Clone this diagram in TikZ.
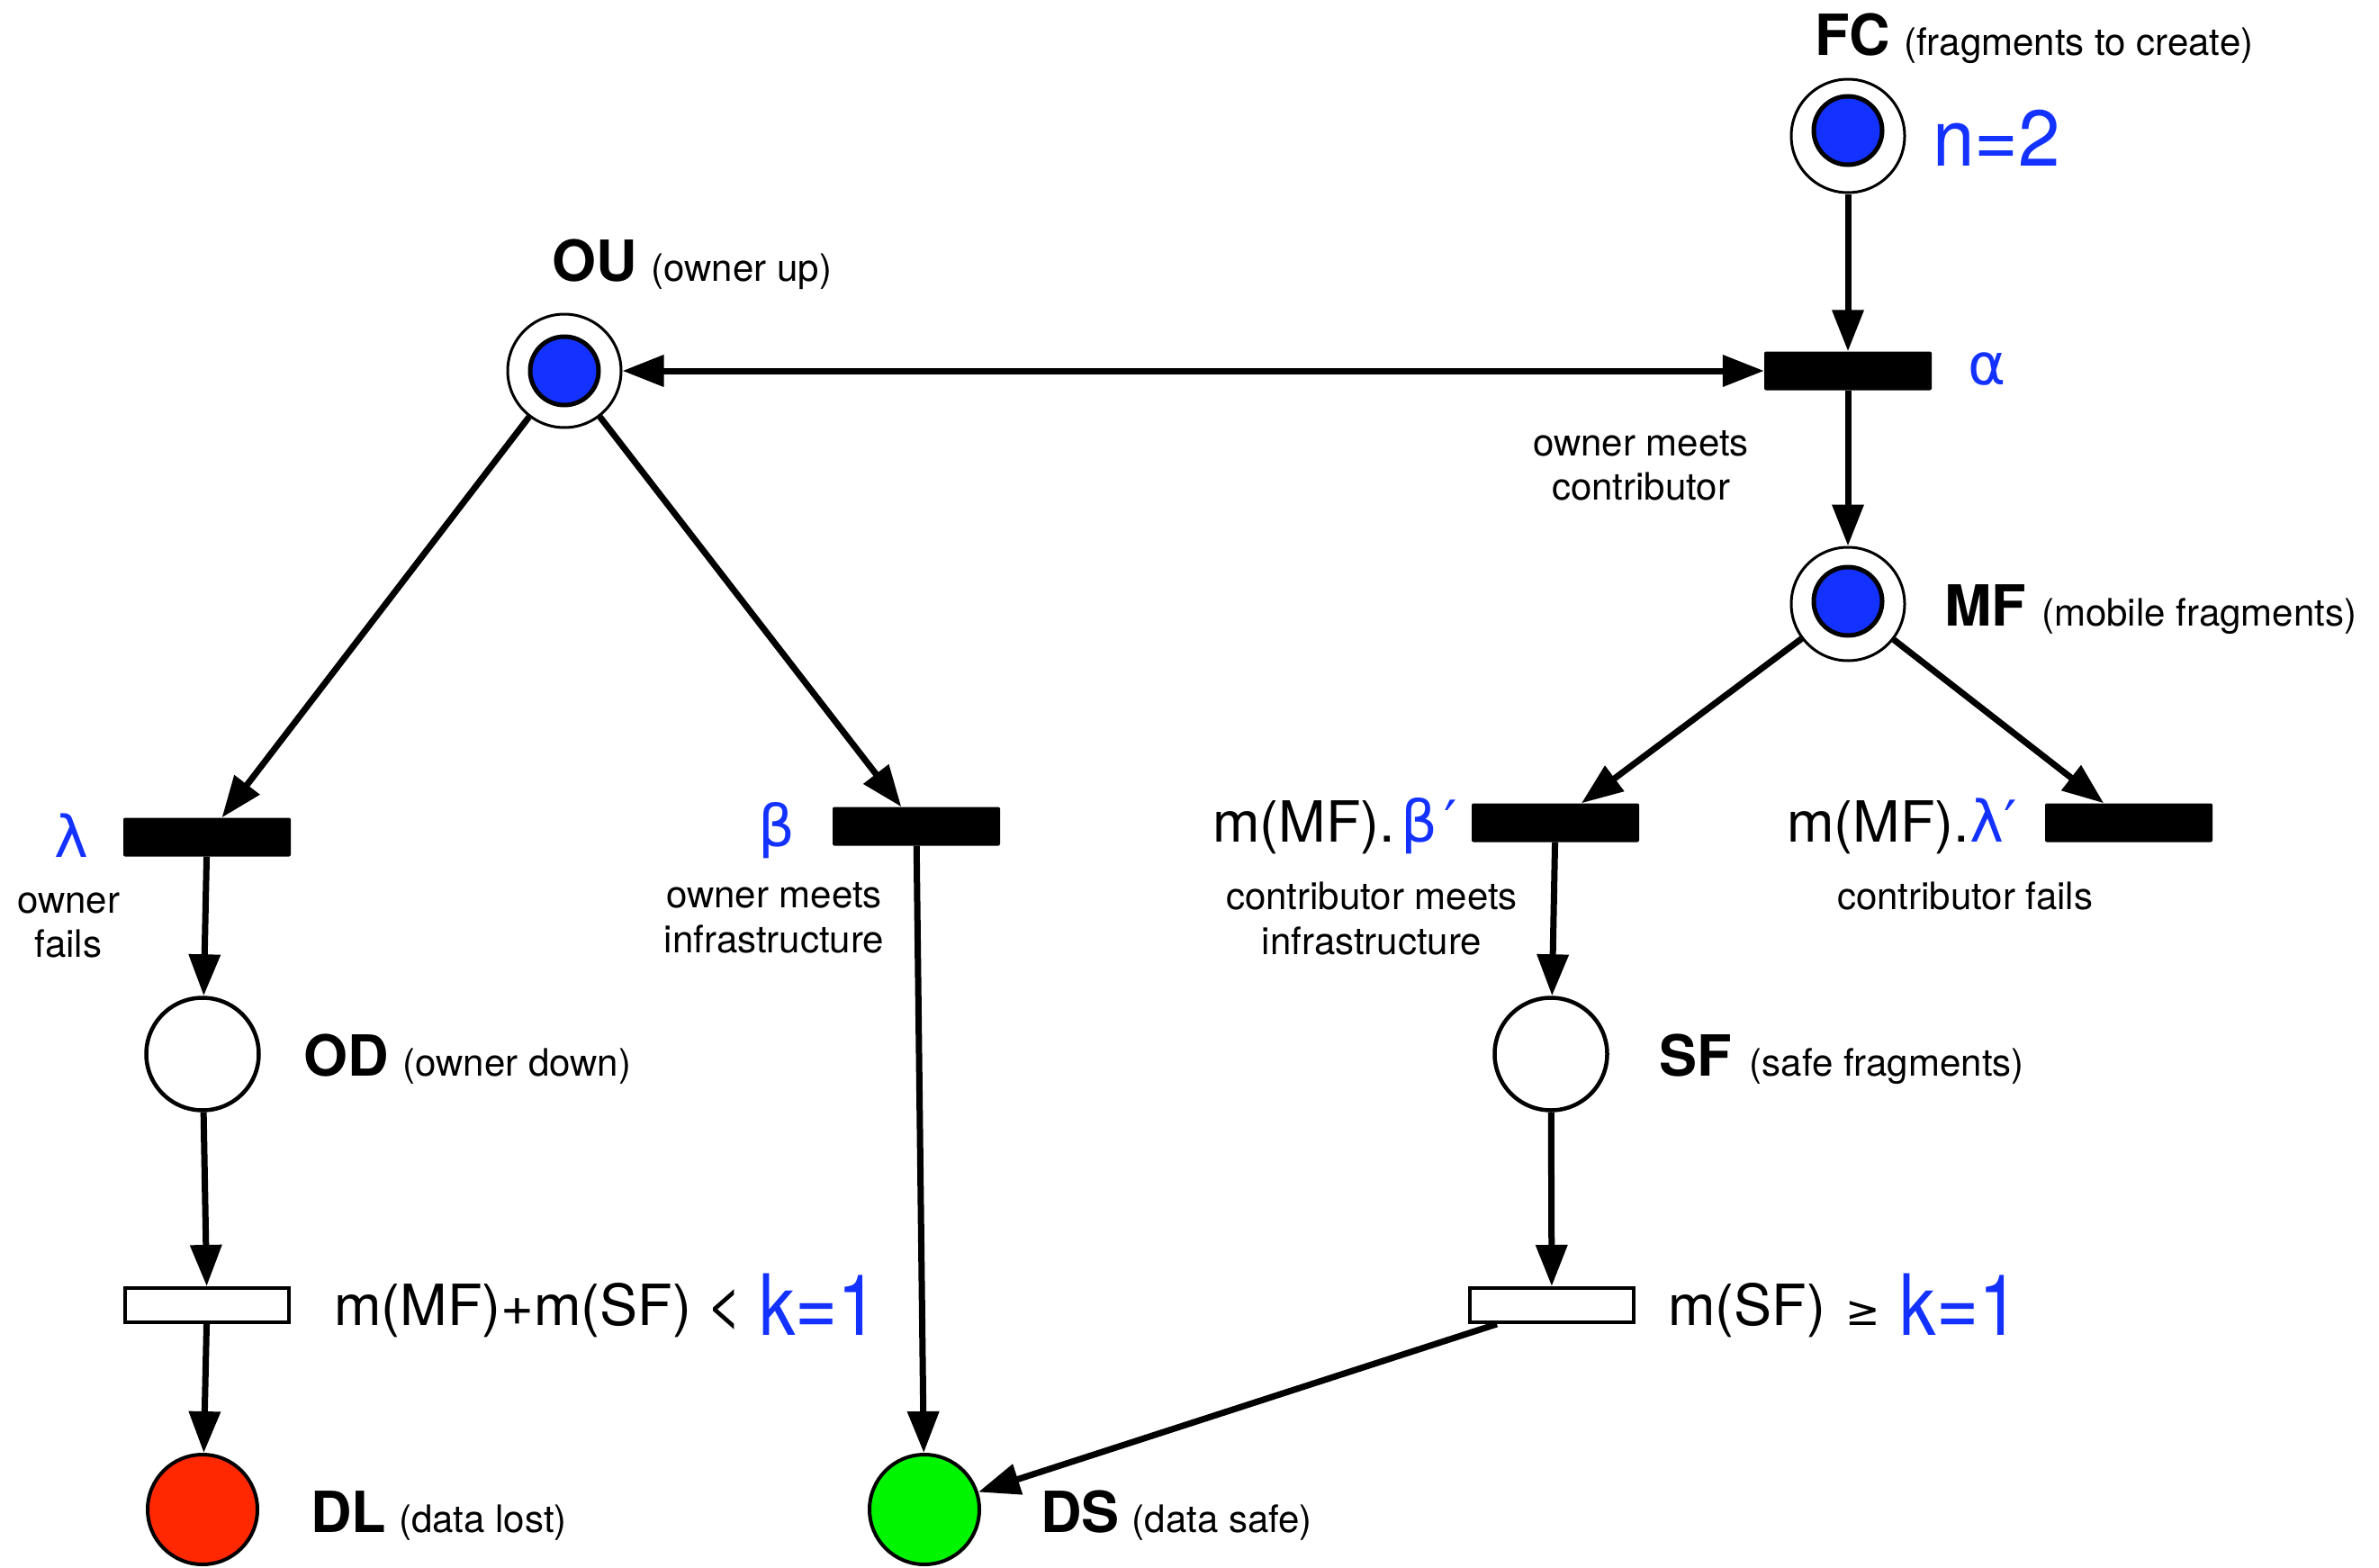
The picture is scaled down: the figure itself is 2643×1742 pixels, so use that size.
\documentclass[tikz,border=0pt]{standalone}
\usepackage{fontspec}
\setmainfont{TeX Gyre Heros}
\newfontfamily\gr{DejaVu Sans}
\usetikzlibrary{arrows.meta}
\definecolor{pnblue}{RGB}{20,50,255}
\definecolor{pnred}{RGB}{255,40,0}
\definecolor{pngreen}{RGB}{0,245,0}
\newcommand\fs[1]{\fontsize{#1}{#1}\selectfont}
\newcommand\kone{\raisebox{-11pt}{\scalebox{0.86}[1]{\fs{94}\color{pnblue}k=1}}}
\begin{document}
\begin{tikzpicture}[x=1pt,y=-1pt,
  place/.style={circle,draw,line width=3pt,fill=white,minimum size=126pt,inner sep=0pt},
  token/.style={circle,draw,line width=5pt,fill=pnblue,minimum size=76pt,inner sep=0pt},
  eplace/.style={circle,draw,line width=4.5pt,fill=white,minimum size=125pt,inner sep=0pt},
  cplace/.style={circle,draw,line width=4pt,minimum size=122pt,inner sep=0pt},
  tbar/.style={rectangle,fill=black,minimum width=186pt,minimum height=43pt,inner sep=0pt,rounded corners=2pt},
  ibar/.style={rectangle,draw,line width=4pt,fill=white,minimum width=182pt,minimum height=38pt,inner sep=0pt},
  arc/.style={line width=7pt,-{Triangle[length=46pt,width=34pt]}},
  dbl/.style={line width=7pt,{Triangle[length=46pt,width=34pt]}-{Triangle[length=46pt,width=34pt]}},
  lbl/.style={inner sep=0pt,anchor=base west},
  sl/.style={inner sep=0pt,anchor=base,font=\fs{42}},
]
\useasboundingbox[fill=white] (0,0) rectangle (2643,1742);

% places
\node[place] (OU) at (627,412) {};
\node[token] (OUt) at (627,412) {};
\node[place] (FC) at (2053,151) {};
\node[token] (FCt) at (2053,145) {};
\node[place] (MF) at (2053,671) {};
\node[token] (MFt) at (2053,668) {};
\node[eplace] (OD) at (225,1171) {};
\node[eplace] (SF) at (1723,1171) {};
\node[cplace,fill=pnred] (DL) at (225,1677) {};
\node[cplace,fill=pngreen] (DS) at (1027,1677) {};

% transitions
\node[tbar] (ta) at (2053,412) {};
\node[tbar] (tl) at (230,930) {};
\node[tbar] (tb) at (1018,918) {};
\node[tbar] (tbp) at (1728,914) {};
\node[tbar] (tlp) at (2365,914) {};
\node[ibar] (wl) at (230,1450) {};
\node[ibar] (wr) at (1724,1450) {};

% arcs
\draw[arc] (FC) -- (ta);
\draw[arc] (ta) -- (MF);
\draw[dbl] (OU) -- (ta);
\draw[arc] (OU) -- (tl);
\draw[arc] (OU) -- (tb);
\draw[arc] (MF) -- (tbp);
\draw[arc] (MF) -- (tlp);
\draw[arc] (tl) -- (OD);
\draw[arc] (tb) -- (DS);
\draw[arc] (tbp) -- (SF);
\draw[arc] (OD) -- (wl);
\draw[arc] (wl) -- (DL);
\draw[arc] (SF) -- (wr);
\draw[arc] ([xshift=32pt]wr.south west) -- (DS);

% place labels
\node[lbl] (FClab) at (2016,62) {{\fs{63}\bfseries FC}\hspace{15pt}{\fs{42}(fragments to create)}};
\node[lbl] (OUlab) at (613,312) {{\fs{63}\bfseries OU}\hspace{16pt}{\fs{42}(owner up)}};
\node[lbl] (MFlab) at (2160,695) {{\fs{63}\bfseries MF}\hspace{17pt}{\fs{42}(mobile fragments)}};
\node[lbl] (ODlab) at (337,1195) {{\fs{63}\bfseries OD}\hspace{16pt}{\fs{42}(owner down)}};
\node[lbl] (SFlab) at (1843,1195) {{\fs{63}\bfseries SF}\hspace{20pt}{\fs{42}(safe fragments)}};
\node[lbl] (DLlab) at (345,1702) {{\fs{63}\bfseries DL}\hspace{14pt}{\fs{42}(data lost)}};
\node[lbl] (DSlab) at (1156,1702) {{\fs{63}\bfseries DS}\hspace{14pt}{\fs{42}(data safe)}};
\node[lbl,text=pnblue] (nlab) at (2147,185) {\scalebox{0.95}[1]{\fs{88}n=2}};

% rates
\node[lbl,text=pnblue] (alab) at (2186,427) {\gr\fs{64}α};
\node[lbl,text=pnblue] (llab) at (60,952) {\gr\fs{64}λ};
\node[lbl,text=pnblue] (blab) at (842,940) {\gr\fs{64}β};
\node[lbl] (bplab) at (1347,935) {\fs{63}m(MF).\hspace{6pt}{\gr\fs{64}\color{pnblue}β\hspace{8pt}′}};
\node[lbl] (lplab) at (1985,935) {\fs{63}m(MF).{\gr\fs{64}\color{pnblue}λ′}};

% transition descriptions
\node[sl] (d1a) at (1823,506) {owner meets};
\node[sl] (d1b) at (1823,555) {contributor};
\node[sl] (d2a) at (76,1014) {owner};
\node[sl] (d2b) at (76,1063) {fails};
\node[sl] (d3a) at (860,1008) {owner meets};
\node[sl] (d3b) at (860,1058) {infrastructure};
\node[sl] (d4a) at (1524,1010) {contributor meets};
\node[sl] (d4b) at (1524,1060) {infrastructure};
\node[sl] (d5a) at (2183,1010) {contributor fails};

% guards
\node[lbl] (g1) at (371,1472) {\fs{63}m(MF)+m(SF)\hspace{16pt}{\fs{70}<}\hspace{18pt}\kone};
\node[lbl] (g2) at (1853,1472) {\fs{63}m(SF)\hspace{22pt}{\gr\fs{46}≥}\hspace{22pt}\kone};
\end{tikzpicture}
\end{document}
